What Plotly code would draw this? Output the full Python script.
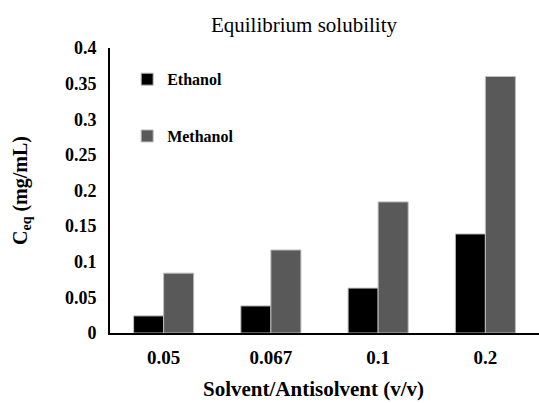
import plotly.graph_objects as go

categories = ["0.05", "0.067", "0.1", "0.2"]
ethanol = [0.024, 0.038, 0.063, 0.139]
methanol = [0.084, 0.1165, 0.184, 0.36]
y_ticks = [0, 0.05, 0.1, 0.15, 0.2, 0.25, 0.3, 0.35, 0.4]
y_tick_labels = ["0", "0.05", "0.1", "0.15", "0.2", "0.25", "0.3", "0.35", "0.4"]

FONT = "Liberation Serif"

fig = go.Figure()
fig.add_trace(go.Bar(x=categories, y=ethanol, name="Ethanol", legendgroup="e",
                     marker=dict(color="#000000", line=dict(color="#bdbdbd", width=1))))
fig.add_trace(go.Bar(x=categories, y=methanol, name="Methanol", legendgroup="m",
                     marker=dict(color="#595959", line=dict(color="#bdbdbd", width=1))))

fig.update_layout(
    width=539, height=403,
    margin=dict(l=110, r=0, t=48, b=70),
    paper_bgcolor="white", plot_bgcolor="white",
    font=dict(family=FONT, color="black"),
    barmode="group", bargap=0.44, bargroupgap=0,
    title=dict(text="Equilibrium solubility", x=304 / 539, xanchor="center", y=1 - 25 / 403, yanchor="middle",
               font=dict(family=FONT, size=21, color="black")),
    showlegend=True,
    legend=dict(x=0.04, y=0.95, xanchor="left", yanchor="top", tracegroupgap=33,
                bgcolor="rgba(0,0,0,0)", font=dict(family=FONT, size=16, color="black", weight="bold"),
                itemwidth=30),
    xaxis=dict(
        showline=True, linecolor="black", linewidth=2, ticks="", showgrid=False,
        tickfont=dict(family=FONT, size=19, color="black", weight="bold"),
        ticklabelstandoff=6,
        range=[-0.5, 3.5],
    ),
    yaxis=dict(
        showline=True, linecolor="black", linewidth=2, ticks="", showgrid=False,
        range=[0, 0.4], tickvals=y_ticks, ticktext=y_tick_labels,
        tickfont=dict(family=FONT, size=18, color="black", weight="bold"),
        ticklabelstandoff=8,
        title=dict(text="C<sub>eq</sub> (mg/mL)", standoff=32,
                   font=dict(family=FONT, size=20, color="black", weight="bold")),
        zeroline=False,
    ),
    annotations=[
        dict(text="Solvent/Antisolvent (v/v)", xref="paper", yref="paper",
             x=(313 - 110) / 429, y=(333 - 389) / 285, xanchor="center", yanchor="middle",
             showarrow=False, font=dict(family=FONT, size=21, color="black", weight="bold")),
    ],
)

fig.write_html("out.html")
